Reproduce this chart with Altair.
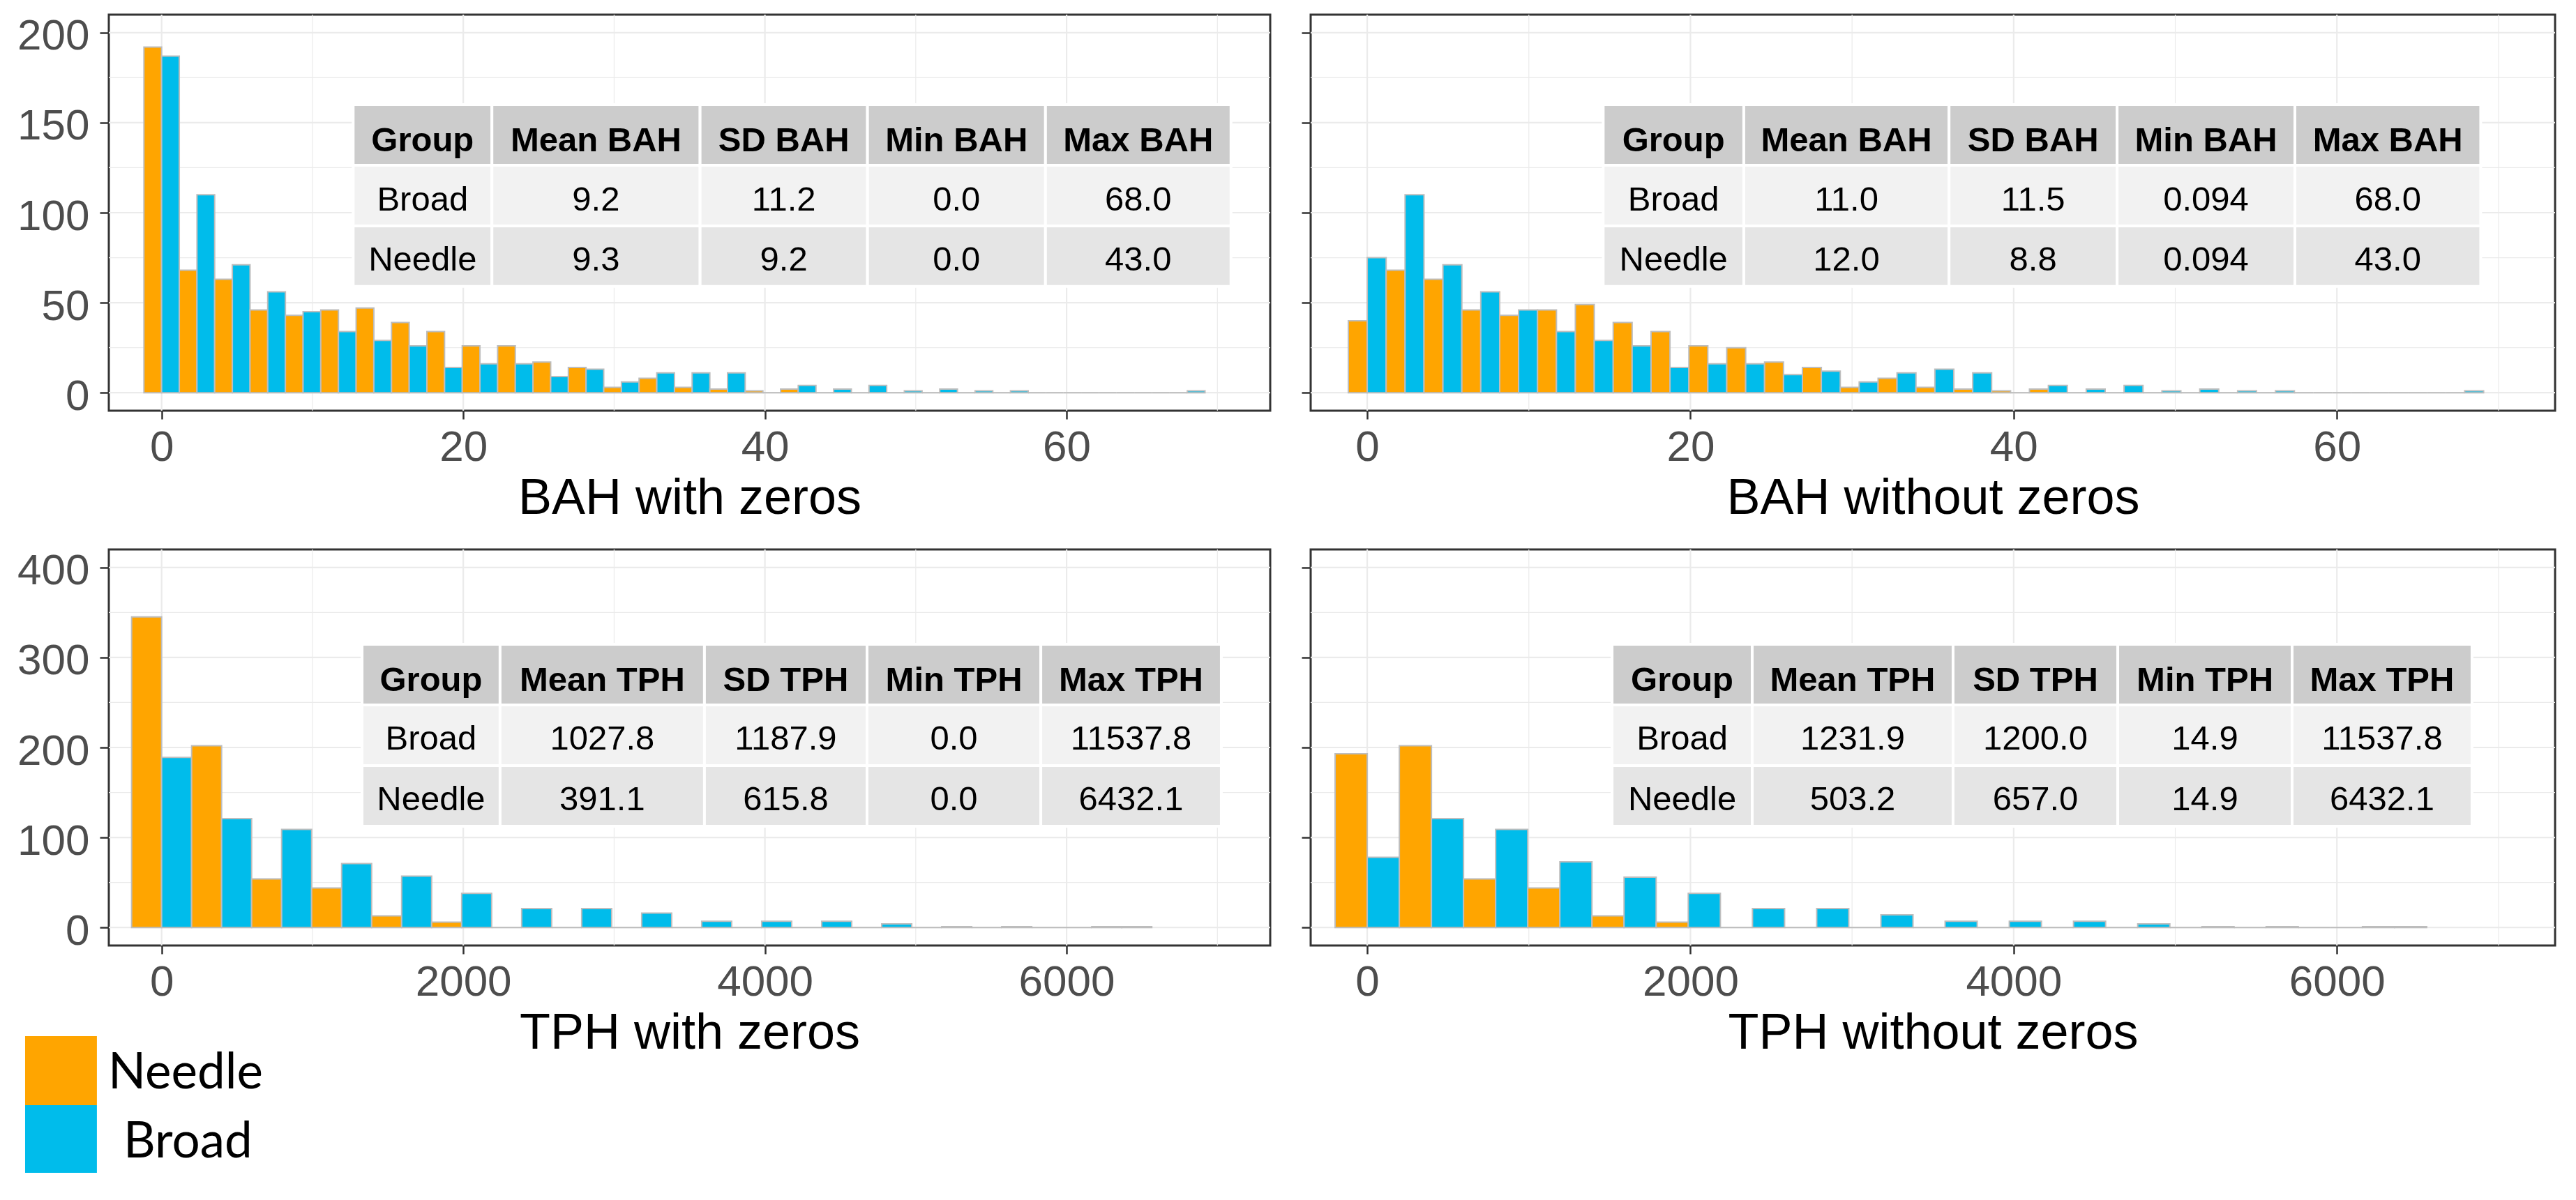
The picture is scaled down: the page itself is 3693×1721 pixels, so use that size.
import altair as alt
import pandas as pd

ORANGE = "#FFA500"
BLUE = "#00BCEB"
GROUPS = ["Needle", "Broad"]

# ---------------- histogram counts (bin k centred at k * bin width) ----------------
bah_width_z = 2.345
bah_width_nz = 2.3416
needle_bah_z = [192, 68, 63, 46, 43, 46, 47, 39, 34, 26, 26, 17, 14, 3, 8, 3, 2, 1, 2, 0,
                0, 0, 0, 0, 0, 0, 0, 0, 0, 0]
broad_bah_z = [187, 110, 71, 56, 45, 34, 29, 26, 14, 16, 16, 9, 13, 6, 11, 11, 11, 0, 4, 2,
               4, 1, 2, 1, 1, 0, 0, 0, 0, 1]
needle_bah_nz = [40, 68, 63, 46, 43, 46, 49, 39, 34, 26, 25, 17, 14, 3, 8, 3, 2, 1, 2, 0,
                 0, 0, 0, 0, 0, 0, 0, 0, 0, 0]
broad_bah_nz = [75, 110, 71, 56, 46, 34, 29, 26, 14, 16, 16, 10, 12, 6, 11, 13, 11, 0, 4, 2,
                4, 1, 2, 1, 1, 0, 0, 0, 0, 1]

tph_width_z = 397.86
tph_width_nz = 397.3
needle_tph_z = [345, 202, 54, 44, 13, 6, 0, 0, 0, 0, 0, 0, 0, 0, 0, 0, 1]
broad_tph_z = [189, 121, 109, 71, 57, 38, 21, 21, 16, 7, 7, 7, 4, 1, 1, 0, 1]
needle_tph_nz = [193, 202, 54, 44, 13, 6, 0, 0, 0, 0, 0, 0, 0, 0, 0, 0, 1]
broad_tph_nz = [78, 121, 109, 73, 56, 38, 21, 21, 14, 7, 7, 7, 4, 1, 1, 0, 1]

# ---------------- summary tables ----------------
bah_header = ["Group", "Mean BAH", "SD BAH", "Min BAH", "Max BAH"]
tph_header = ["Group", "Mean TPH", "SD TPH", "Min TPH", "Max TPH"]
bah_z_rows = [["Broad", "9.2", "11.2", "0.0", "68.0"],
              ["Needle", "9.3", "9.2", "0.0", "43.0"]]
bah_nz_rows = [["Broad", "11.0", "11.5", "0.094", "68.0"],
               ["Needle", "12.0", "8.8", "0.094", "43.0"]]
tph_z_rows = [["Broad", "1027.8", "1187.9", "0.0", "11537.8"],
              ["Needle", "391.1", "615.8", "0.0", "6432.1"]]
tph_nz_rows = [["Broad", "1231.9", "1200.0", "14.9", "11537.8"],
               ["Needle", "503.2", "657.0", "14.9", "6432.1"]]

# table placement, in each panel's data units
tl_cols = [12.7, 21.9, 35.7, 46.8, 58.6, 70.9]
tr_cols = [14.6, 23.3, 36.0, 46.4, 57.4, 68.9]
top_rows = [160.0, 126.3, 92.6, 59.0]
bl_cols = [1329, 2244, 3599, 4677, 5829, 7026]
br_cols = [1515, 2382, 3625, 4644, 5723, 6836]
bot_rows = [314.6, 247.3, 179.9, 112.5]

# axis ticks / grid
bah_major = [0, 20, 40, 60]
bah_minor = [10, 30, 50, 70]
bah_ymajor = [0, 50, 100, 150, 200]
bah_yminor = [25, 75, 125, 175]
tph_major = [0, 2000, 4000, 6000]
tph_minor = [1000, 3000, 5000, 7000]
tph_ymajor = [0, 100, 200, 300, 400]
tph_yminor = [50, 150, 250, 350]

color_scale = alt.Scale(domain=GROUPS, range=[ORANGE, BLUE])
FONT = "Liberation Sans"


def bars_df(needle, broad, width):
    rows = []
    for k, (n, b) in enumerate(zip(needle, broad)):
        c = k * width
        rows.append(dict(group="Needle", x0=c - width / 2, x1=c, count=n, y0=0))
        rows.append(dict(group="Broad", x0=c, x1=c + width / 2, count=b, y0=0))
    return pd.DataFrame(rows)


def table_df(header, rows, cols, redges):
    cells = []
    kinds = ["header", "odd", "even"]
    for r, row in enumerate([header] + rows):
        for c, txt in enumerate(row):
            cells.append(dict(x0=cols[c], x1=cols[c + 1], y0=redges[r], y1=redges[r + 1],
                              xc=(cols[c] + cols[c + 1]) / 2,
                              yc=(redges[r] + redges[r + 1]) / 2,
                              text=txt, kind=kinds[r]))
    return pd.DataFrame(cells)


def panel(bars, xdom, ydom, xmaj, xmin, ymaj, ymin, tab, title, width, height,
          ylabels, legend=None):
    xs = alt.Scale(domain=xdom, nice=False, zero=False)
    ys = alt.Scale(domain=ydom, nice=False, zero=False)
    xax = alt.Axis(values=xmaj, title=title, grid=False, tickSize=12,
                   labelBaseline="alphabetic", labelPadding=59, labelFlush=False,
                   titleBaseline="alphabetic", titleY=147, format="d")
    yax = alt.Axis(values=ymaj, title=None, grid=False, tickSize=13, labelPadding=15,
                   labels=ylabels, labelOffset=5, format="d")

    def X(f):
        return alt.X(f, scale=xs, axis=xax)

    def Y(f):
        return alt.Y(f, scale=ys, axis=yax)

    vgrid = pd.DataFrame({"x0": xmaj + xmin, "w": [2.2] * len(xmaj) + [1.2] * len(xmin)})
    hgrid = pd.DataFrame({"y0": ymaj + ymin, "w": [2.2] * len(ymaj) + [1.2] * len(ymin)})

    layers = [
        alt.Chart(vgrid).mark_rule(color="#EBEBEB").encode(
            x=X("x0:Q"), strokeWidth=alt.StrokeWidth("w:Q", scale=None)),
        alt.Chart(hgrid).mark_rule(color="#EBEBEB").encode(
            y=Y("y0:Q"), strokeWidth=alt.StrokeWidth("w:Q", scale=None)),
        alt.Chart(bars).mark_rect(stroke="#BDBDBD", strokeWidth=2).encode(
            x=X("x0:Q"), x2="x1:Q", y=Y("count:Q"), y2="y0:Q",
            color=alt.Color("group:N", scale=color_scale, legend=None)),
        alt.Chart(tab).mark_rect(stroke="white", strokeWidth=4).encode(
            x=X("x0:Q"), x2="x1:Q", y=Y("y0:Q"), y2="y1:Q",
            fill=alt.Fill("kind:N", scale=alt.Scale(domain=["header", "odd", "even"],
                                                    range=["#CCCCCC", "#F2F2F2", "#E5E5E5"]),
                          legend=None)),
        alt.Chart(tab).transform_filter("datum.kind == 'header'").mark_text(
            font=FONT, fontSize=49, fontWeight="bold", color="black", dy=8).encode(
            x=X("xc:Q"), y=Y("yc:Q"), text="text:N"),
        alt.Chart(tab).transform_filter("datum.kind != 'header'").mark_text(
            font=FONT, fontSize=49, color="black", dy=6).encode(
            x=X("xc:Q"), y=Y("yc:Q"), text="text:N"),
    ]
    if legend is not None:
        layers.append(alt.Chart(legend).mark_rect().encode(
            x=X("x0:Q"), x2="x1:Q", y=Y("y0:Q"), y2="y1:Q",
            color=alt.Color("group:N", scale=color_scale, legend=None)))
        layers.append(alt.Chart(legend).mark_text(
            font="Lato", fontSize=71, color="black", align="left",
            baseline="alphabetic").encode(x=X("tx:Q"), y=Y("ty:Q"), text="group:N"))
    return alt.layer(*layers).properties(width=width, height=height)


W_LEFT, W_RIGHT, H = 1665, 1784, 568
BAH_X = [-3.5, 73.5]
BAH_Y = [-10, 210]
TPH_X = [-350, 7350]
TPH_Y = [-20, 420]

legend_df = pd.DataFrame({
    "group": GROUPS,
    "x0": [-905, -905], "x1": [-429, -429],
    "y0": [-120.7, -197.4], "y1": [-197.4, -272.5],
    "tx": [-355, -253], "ty": [-178.8, -255.5],
})

tl = panel(bars_df(needle_bah_z, broad_bah_z, bah_width_z), BAH_X, BAH_Y,
           bah_major, bah_minor, bah_ymajor, bah_yminor,
           table_df(bah_header, bah_z_rows, tl_cols, top_rows),
           "BAH with zeros", W_LEFT, H, True)
tr = panel(bars_df(needle_bah_nz, broad_bah_nz, bah_width_nz), BAH_X, BAH_Y,
           bah_major, bah_minor, bah_ymajor, bah_yminor,
           table_df(bah_header, bah_nz_rows, tr_cols, top_rows),
           "BAH without zeros", W_RIGHT, H, False)
bl = panel(bars_df(needle_tph_z, broad_tph_z, tph_width_z), TPH_X, TPH_Y,
           tph_major, tph_minor, tph_ymajor, tph_yminor,
           table_df(tph_header, tph_z_rows, bl_cols, bot_rows),
           "TPH with zeros", W_LEFT, H, True, legend=legend_df)
br = panel(bars_df(needle_tph_nz, broad_tph_nz, tph_width_nz), TPH_X, TPH_Y,
           tph_major, tph_minor, tph_ymajor, tph_yminor,
           table_df(tph_header, tph_nz_rows, br_cols, bot_rows),
           "TPH without zeros", W_RIGHT, H, False)

chart = alt.concat(tl, tr, bl, br, columns=2).properties(
    spacing={"row": 199, "column": 58},
    bounds="flush",
    padding={"left": 15, "top": 10, "right": 5, "bottom": 5},
    background="white",
).configure_view(
    stroke="#333333", strokeWidth=3
).configure_axis(
    domain=False, tickColor="#333333", tickWidth=2.5,
    labelFont=FONT, labelFontSize=62, labelColor="#4D4D4D",
    titleFont=FONT, titleFontSize=72, titleColor="black", titleFontWeight="normal",
)

chart.save("out.html", embed_options={"renderer": "svg", "actions": False})
